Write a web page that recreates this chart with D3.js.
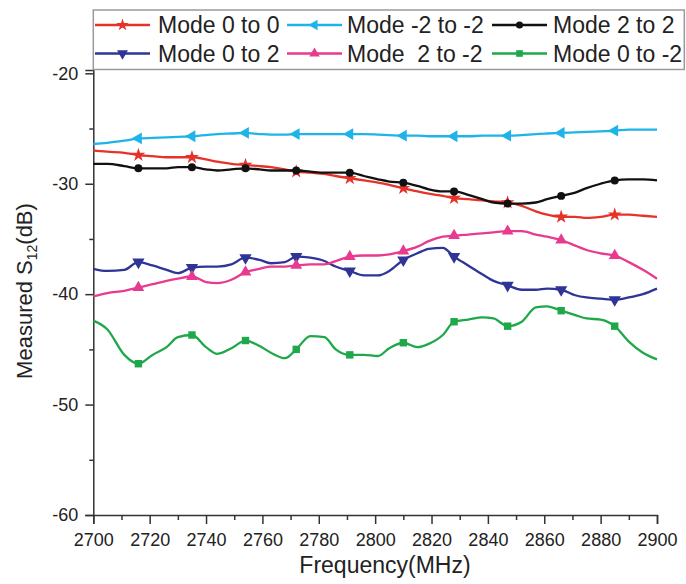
<!doctype html>
<html>
<head>
<meta charset="utf-8">
<script src="https://cdn.jsdelivr.net/npm/d3@7/dist/d3.min.js"></script>
<style>
  body { margin: 0; background: #fff; }
  text { font-family: "Liberation Sans", Arial, sans-serif; fill: #222; }
</style>
</head>
<body>
<svg width="686" height="584"></svg>
<script>
// frequency grid (MHz), markers sit at every 4th point starting at index 3
var freq = [2700, 2705, 2711, 2716, 2721, 2726, 2730, 2735, 2740, 2744, 2749, 2754, 2759, 2763,
            2768, 2772, 2777, 2782, 2786, 2791, 2796, 2801, 2805, 2810, 2815, 2819, 2824, 2828,
            2833, 2838, 2842, 2847, 2852, 2857, 2861, 2866, 2871, 2875, 2880, 2885, 2890, 2895, 2900];
var markerIdx = [3, 7, 11, 15, 19, 23, 27, 31, 35, 39];

var mode00 = [-27.0, -27.1, -27.2, -27.4, -27.5, -27.6, -27.6, -27.6, -27.8, -28.0, -28.2, -28.3, -28.4, -28.5,
              -28.7, -28.9, -29.0, -29.1, -29.3, -29.5, -29.7, -29.9, -30.1, -30.4, -30.7, -30.9, -31.1, -31.3,
              -31.4, -31.5, -31.6, -31.7, -32.0, -32.5, -32.8, -33.0, -33.0, -33.1, -33.0, -32.8, -32.8, -32.9, -33.0];
var modeN2N2 = [-26.4, -26.3, -26.1, -25.9, -25.85, -25.8, -25.75, -25.7, -25.6, -25.5, -25.45, -25.4, -25.5, -25.55,
                -25.55, -25.5, -25.5, -25.5, -25.5, -25.5, -25.5, -25.55, -25.6, -25.65, -25.65, -25.7, -25.7, -25.7,
                -25.7, -25.65, -25.65, -25.65, -25.6, -25.5, -25.45, -25.4, -25.35, -25.3, -25.25, -25.2, -25.1, -25.1, -25.1];
var mode22 = [-28.2, -28.2, -28.4, -28.6, -28.6, -28.6, -28.5, -28.5, -28.7, -28.8, -28.7, -28.6, -28.7, -28.8,
              -28.8, -28.8, -28.9, -29.0, -29.0, -29.0, -29.3, -29.6, -29.8, -29.9, -30.2, -30.5, -30.7, -30.7,
              -31.0, -31.4, -31.7, -31.8, -31.8, -31.7, -31.4, -31.1, -30.8, -30.4, -30.0, -29.7, -29.6, -29.6, -29.7];
var mode02 = [-37.7, -37.9, -37.8, -37.1, -37.4, -37.8, -38.1, -37.6, -37.5, -37.5, -37.3, -36.7, -36.9, -37.2,
              -37.1, -36.6, -36.7, -37.0, -37.5, -37.9, -38.3, -38.3, -37.9, -36.9, -36.3, -35.9, -35.8, -36.6,
              -37.4, -38.2, -38.8, -39.2, -39.6, -39.6, -39.5, -39.6, -40.1, -40.3, -40.4, -40.5, -40.3, -40.0, -39.5];
var mode2N2 = [-40.2, -39.9, -39.7, -39.4, -39.1, -38.8, -38.6, -38.4, -38.9, -39.0, -38.7, -38.0, -37.7, -37.5,
               -37.5, -37.4, -37.3, -37.3, -37.0, -36.6, -36.5, -36.5, -36.4, -36.1, -35.7, -35.2, -34.8, -34.7,
               -34.6, -34.5, -34.4, -34.3, -34.3, -34.6, -34.8, -35.1, -35.6, -36.0, -36.3, -36.5, -37.1, -37.8, -38.6];
var mode0N2 = [-42.4, -43.2, -45.5, -46.3, -45.5, -44.8, -43.9, -43.7, -44.8, -45.4, -44.9, -44.2, -44.7, -45.3,
               -45.8, -45.0, -43.8, -43.9, -45.0, -45.5, -45.5, -45.6, -44.9, -44.4, -44.8, -44.5, -43.7, -42.5,
               -42.3, -42.1, -42.2, -42.9, -42.5, -41.2, -41.1, -41.5, -41.9, -42.2, -42.3, -42.9, -44.3, -45.3, -45.9];

var seriesNames = ["Mode 0 to 0", "Mode -2 to -2", "Mode 2 to 2", "Mode 0 to 2", "Mode  2 to -2", "Mode 0 to -2"];
var seriesColors = ["#e5332a", "#1eb4e9", "#111111", "#2e3596", "#e83a8e", "#1ea84a"];
var xMajorTicks = [2700, 2720, 2740, 2760, 2780, 2800, 2820, 2840, 2860, 2880, 2900];
var xMinorTicks = [2710, 2730, 2750, 2770, 2790, 2810, 2830, 2850, 2870, 2890];
var yMajorTicks = [-60, -50, -40, -30, -20];
var yMinorTicks = [-55, -45, -35, -25];

var svg = d3.select("svg");

var xScale = d3.scaleLinear().domain([2700, 2900]).range([93.3, 657]);
var yScale = d3.scaleLinear().domain([-60, -19.7]).range([515, 70]);

var allSeries = [mode00, modeN2N2, mode22, mode02, mode2N2, mode0N2];

// marker shapes: star, left triangle, circle, down triangle, up triangle, square
var shapes = [
    {type: d3.symbolStar, size: 60, rot: 0},
    {type: d3.symbolTriangle, size: 60, rot: -90},
    {type: d3.symbolCircle, size: 50, rot: 0},
    {type: d3.symbolTriangle, size: 65, rot: 180},
    {type: d3.symbolTriangle, size: 60, rot: 0},
    {type: d3.symbolSquare, size: 55, rot: 0}
];

var plain = function(d) { return String(d); };  // keep ascii hyphen minus like the original

// axes
var axisColor = "#333";

svg.append("g")
    .attr("transform", "translate(" + xScale(2700) + ",0)")
    .call(d3.axisLeft(yScale).tickValues(yMajorTicks).tickSize(8).tickPadding(7).tickFormat(plain));
svg.append("g")
    .attr("transform", "translate(" + xScale(2700) + ",0)")
    .call(d3.axisLeft(yScale).tickValues(yMinorTicks).tickSize(4).tickFormat(""))
    .select(".domain").remove();

svg.append("g")
    .attr("transform", "translate(0," + yScale(-60) + ")")
    .call(d3.axisBottom(xScale).tickValues(xMajorTicks).tickSize(9).tickPadding(9).tickFormat(plain));
svg.append("g")
    .attr("transform", "translate(0," + yScale(-60) + ")")
    .call(d3.axisBottom(xScale).tickValues(xMinorTicks).tickSize(5).tickFormat(""))
    .select(".domain").remove();

svg.selectAll(".domain, .tick line")
    .attr("stroke", axisColor)
    .attr("stroke-width", 1.5);
svg.selectAll(".tick text")
    .style("font-size", "18px")
    .attr("fill", "#222");

// lines
var line = d3.line()
    .x(function(d, i) { return xScale(freq[i]); })
    .y(function(d) { return yScale(d); })
    .curve(d3.curveMonotoneX);

allSeries.forEach(function(vals, k) {
    svg.append("path")
        .datum(vals)
        .attr("d", line)
        .attr("fill", "none")
        .attr("stroke", seriesColors[k])
        .attr("stroke-width", 2.3);

    var sym = d3.symbol().type(shapes[k].type).size(shapes[k].size);
    svg.append("g")
        .selectAll("path")
        .data(markerIdx)
        .enter()
        .append("path")
        .attr("d", sym)
        .attr("transform", function(i) {
            return "translate(" + xScale(freq[i]) + "," + yScale(vals[i]) + ")rotate(" + shapes[k].rot + ")";
        })
        .attr("fill", seriesColors[k]);
});

// legend
var legend = svg.append("g");
legend.append("rect")
    .attr("x", 93.3).attr("y", 10)
    .attr("width", 591).attr("height", 59.5)
    .attr("fill", "#fff")
    .attr("stroke", "#9a9a9a")
    .attr("stroke-width", 1.5);

var colSample = [95, 287, 492];
var colText = [158, 347, 553];
var rowY = [25, 53.5];

seriesNames.forEach(function(name, k) {
    var col = k % 3, row = Math.floor(k / 3);
    var x0 = colSample[col], y0 = rowY[row];
    legend.append("line")
        .attr("x1", x0).attr("x2", x0 + 55)
        .attr("y1", y0).attr("y2", y0)
        .attr("stroke", seriesColors[k])
        .attr("stroke-width", 2.3);
    legend.append("path")
        .attr("d", d3.symbol().type(shapes[k].type).size(shapes[k].size * 0.8))
        .attr("transform", "translate(" + (x0 + 27.5) + "," + y0 + ")rotate(" + shapes[k].rot + ")")
        .attr("fill", seriesColors[k]);
    legend.append("text")
        .attr("x", colText[col])
        .attr("y", y0 + 8.3)
        .style("font-size", "23px")
        .style("white-space", "pre")
        .text(name);
});

// axis titles
svg.append("text")
    .attr("x", 385)
    .attr("y", 573)
    .attr("text-anchor", "middle")
    .style("font-size", "23px")
    .text("Frequency(MHz)");

var ylab = svg.append("text")
    .attr("text-anchor", "middle")
    .attr("transform", "translate(32,291)rotate(-90)")
    .style("font-size", "22px");
ylab.append("tspan").text("Measured S");
ylab.append("tspan").attr("dy", 5).style("font-size", "14px").text("12");
ylab.append("tspan").attr("dy", -5).text("(dB)");
</script>
</body>
</html>
